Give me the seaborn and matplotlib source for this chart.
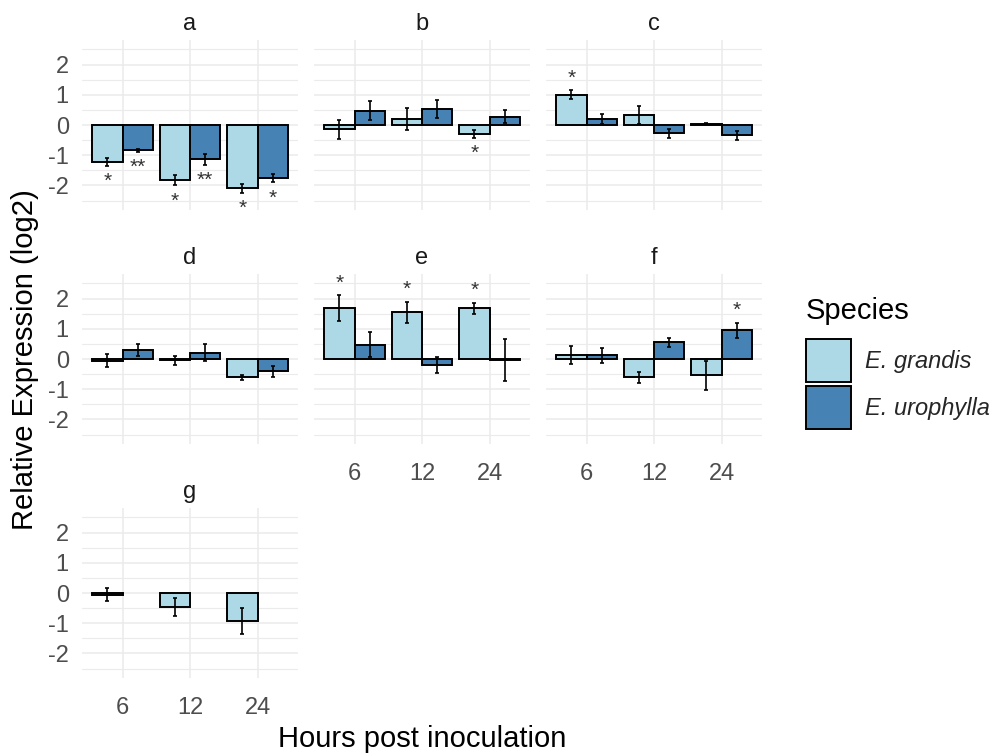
import numpy as np
import pandas as pd
import matplotlib
matplotlib.use("Agg")
import matplotlib.pyplot as plt
import seaborn as sns
from matplotlib.patches import Patch
from matplotlib.ticker import MultipleLocator

# ---------------- data ----------------
panels = ["a", "b", "c", "d", "e", "f", "g"]
hours = ["6", "12", "24"]
species = ["E. grandis", "E. urophylla"]

grandis_mean = [
    [-1.22, -1.83, -2.09],
    [-0.14, 0.20, -0.29],
    [1.00, 0.33, 0.04],
    [-0.05, -0.04, -0.60],
    [1.68, 1.55, 1.68],
    [0.14, -0.60, -0.54],
    [-0.05, -0.46, -0.93],
]
grandis_se = [
    [0.12, 0.17, 0.15],
    [0.32, 0.36, 0.13],
    [0.15, 0.30, 0.02],
    [0.22, 0.15, 0.08],
    [0.42, 0.35, 0.18],
    [0.30, 0.18, 0.48],
    [0.20, 0.30, 0.42],
]
grandis_sig = [
    ["*", "*", "*"],
    ["", "", "*"],
    ["*", "", ""],
    ["", "", ""],
    ["*", "*", "*"],
    ["", "", ""],
    ["", "", ""],
]
# panel g has no E. urophylla data
urophylla_mean = [
    [-0.83, -1.14, -1.76],
    [0.47, 0.53, 0.27],
    [0.20, -0.28, -0.34],
    [0.29, 0.21, -0.41],
    [0.47, -0.20, -0.03],
    [0.12, 0.56, 0.95],
    None,
]
urophylla_se = [
    [0.05, 0.18, 0.14],
    [0.32, 0.31, 0.22],
    [0.18, 0.15, 0.15],
    [0.20, 0.27, 0.18],
    [0.42, 0.27, 0.70],
    [0.25, 0.15, 0.25],
    None,
]
urophylla_sig = [
    ["**", "**", "*"],
    ["", "", ""],
    ["", "", ""],
    ["", "", ""],
    ["", "", ""],
    ["", "", "*"],
    None,
]

rows = []
for pi, p in enumerate(panels):
    for hi, h in enumerate(hours):
        rows.append(dict(panel=p, hours=h, species=species[0],
                         mean=grandis_mean[pi][hi], se=grandis_se[pi][hi],
                         sig=grandis_sig[pi][hi]))
        if urophylla_mean[pi] is not None:
            rows.append(dict(panel=p, hours=h, species=species[1],
                             mean=urophylla_mean[pi][hi], se=urophylla_se[pi][hi],
                             sig=urophylla_sig[pi][hi]))
df = pd.DataFrame(rows)

palette = {"E. grandis": "#ADD8E6", "E. urophylla": "#4682B4"}

# ---------------- style ----------------
sns.set_style("white")
plt.rcParams["font.family"] = ["Liberation Sans", "DejaVu Sans"]
plt.rcParams["axes.unicode_minus"] = False

W, H = 1000, 756
fig = plt.figure(figsize=(W / 100, H / 100), dpi=100)

col_left = [82, 314, 546]
row_top = [40, 274, 508]
pw, ph = 216, 170
layout = {"a": (0, 0), "b": (0, 1), "c": (0, 2),
          "d": (1, 0), "e": (1, 1), "f": (1, 2), "g": (2, 0)}
show_x = {"e", "f", "g"}
show_y = {"a", "d", "g"}

grid_col = "#EBEBEB"
tick_col = "#4D4D4D"
edge_lw = 1.4
star_fs = 15

for p in panels:
    r, c = layout[p]
    ax = fig.add_axes([col_left[c] / W, 1 - (row_top[r] + ph) / H, pw / W, ph / H])
    sub = df[df.panel == p]
    sns.barplot(data=sub, x="hours", y="mean", hue="species", order=hours,
                hue_order=species, palette=palette, saturation=1, width=0.9,
                dodge=True, errorbar=None, edgecolor="black", linewidth=edge_lw,
                legend=False, ax=ax, zorder=2)

    for patch in list(ax.patches):
        hgt = patch.get_height()
        if hgt is None or np.isnan(hgt):
            continue
        xc = patch.get_x() + patch.get_width() / 2
        i = int(round(xc))
        sp = species[0] if xc < i else species[1]
        m = sub[(sub.hours == hours[i]) & (sub.species == sp)]
        if m.empty:
            continue
        row = m.iloc[0]
        ax.errorbar(xc, row["mean"], yerr=row["se"], fmt="none", ecolor="black",
                    elinewidth=1.2, capsize=1.6, capthick=1.2, zorder=3)
        if row["sig"]:
            if row["mean"] >= 0:
                ys = row["mean"] + row["se"] + 0.5
            else:
                ys = row["mean"] - row["se"] - 0.42
            ax.annotate(row["sig"], xy=(xc, ys), xytext=(0, -0.57 * star_fs + 2.4),
                        textcoords="offset points", ha="center", va="baseline",
                        fontsize=star_fs, color="#333333", zorder=4)

    ax.set_xlim(-0.6, 2.6)
    ax.set_ylim(-2.81, 2.81)
    ax.set_yticks([-2, -1, 0, 1, 2])
    ax.set_yticklabels(["-2", "-1", "0", "1", "2"])
    ax.yaxis.set_minor_locator(MultipleLocator(0.5))
    ax.set_axisbelow(True)
    ax.grid(which="major", color=grid_col, lw=1.1)
    ax.grid(which="minor", axis="y", color=grid_col, lw=0.8)
    for s in ax.spines.values():
        s.set_visible(False)
    ax.set_xlabel("")
    ax.set_ylabel("")
    ax.tick_params(axis="both", which="both", length=0, labelsize=17,
                   labelcolor=tick_col)
    ax.tick_params(axis="x", pad=13.5, labelbottom=p in show_x)
    ax.tick_params(axis="y", pad=9.5, labelleft=p in show_y)
    ax.annotate(p, xy=(0.5, 1), xycoords="axes fraction", xytext=(0, 7.5),
                textcoords="offset points", ha="center", va="baseline",
                fontsize=17, color="#1A1A1A")

fig.text(25 / W, 1 - 360 / H, "Relative Expression (log2)", rotation=90,
         ha="center", va="center", fontsize=21, color="black")
fig.text(422 / W, 1 - 739 / H, "Hours post inoculation", ha="center",
         va="center", fontsize=21, color="black")

# legend: title as text, keys via matplotlib legend
fig.text(806 / W, 1 - 311 / H, "Species", ha="left", va="center",
         fontsize=21, color="black")
handles = [Patch(facecolor=palette[s], edgecolor="black", linewidth=edge_lw, label=s)
           for s in species]
leg = fig.legend(handles=handles, loc="upper left",
                 bbox_to_anchor=(806 / W, 1 - 339 / H), frameon=False,
                 fontsize=17, handlelength=1.9,
                 handleheight=2.43, handletextpad=0.6, labelspacing=0.17,
                 borderpad=0, borderaxespad=0)
for t in leg.get_texts():
    t.set_fontstyle("italic")

fig.savefig("out.png", dpi=100)
